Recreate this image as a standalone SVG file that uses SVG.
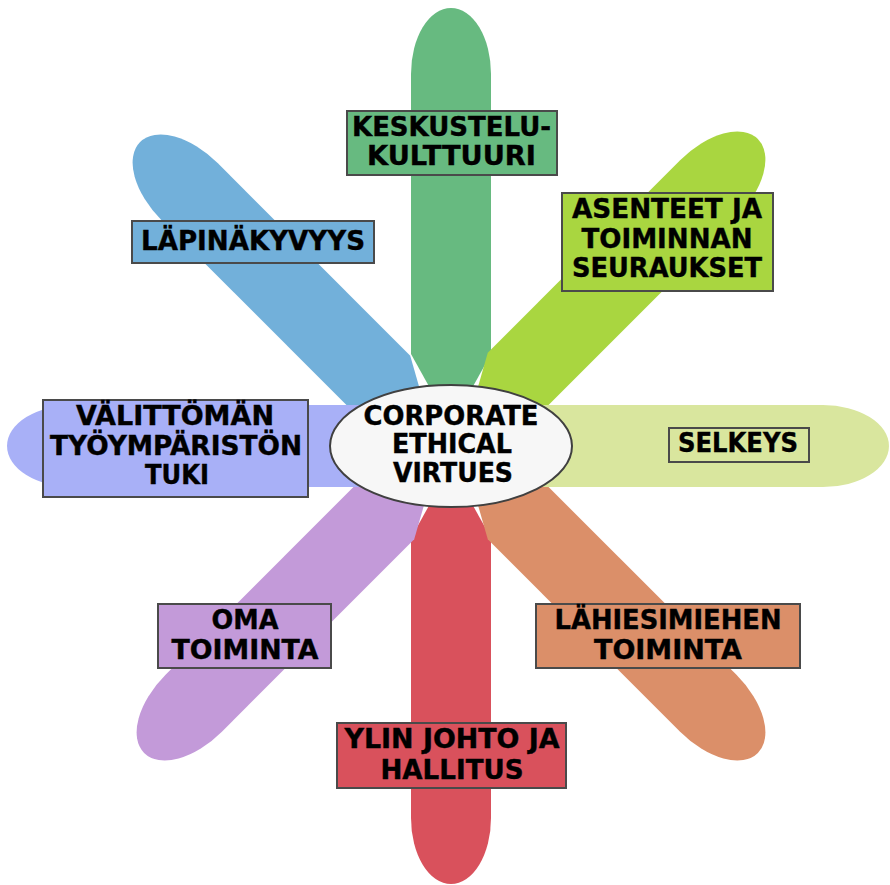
<svg xmlns="http://www.w3.org/2000/svg" width="890" height="885" viewBox="0 0 890 885">
<style>
.lbl{stroke:#4a4a4a;stroke-width:2}
.t{font-family:"DejaVu Sans","Liberation Sans",sans-serif;font-weight:bold;font-size:26px;fill:#000;text-anchor:middle;stroke:#000;stroke-width:0.4}
</style>
<defs>
<path id="pS" d="M20,0 L92,-40 L372,-40 A66,40 0 0 1 372,40 L92,40 Z"/>
<path id="pH" d="M20,0 L92,-41 L372,-41 A66,41 0 0 1 372,41 L92,41 Z"/>
<path id="pL" d="M20,0 L92,-41 L378,-41 A66,41 0 0 1 378,41 L92,41 Z"/>
<path id="pD" d="M20,0 L92,-40 L364,-40 A70,40 0 0 1 364,40 L92,40 Z"/>
</defs>
<rect width="890" height="885" fill="#fff"/>
<g id="connectors"></g>
<g id="keskustelukulttuuri">
<use href="#pS" transform="translate(451,446) rotate(-90)" fill="#67BA80"/>
<rect class="lbl" x="347" y="111" width="210" height="64" fill="#67BA80"/>
<text class="t" x="451.5" y="136" textLength="199" lengthAdjust="spacingAndGlyphs">KESKUSTELU-</text>
<text class="t" x="451.5" y="165" textLength="169" lengthAdjust="spacingAndGlyphs">KULTTUURI</text>
</g>
<g id="ylin-johto">
<use href="#pS" transform="translate(451,446) rotate(90)" fill="#D9515C"/>
<rect class="lbl" x="337" y="723" width="229" height="65" fill="#D9515C"/>
<text class="t" x="452" y="748" textLength="215" lengthAdjust="spacingAndGlyphs">YLIN JOHTO JA</text>
<text class="t" x="452" y="779" textLength="143" lengthAdjust="spacingAndGlyphs">HALLITUS</text>
</g>
<g id="lapinakyvyys">
<use href="#pD" transform="translate(447,449) rotate(-135)" fill="#72B0DA"/>
<rect class="lbl" x="132" y="221" width="242" height="42" fill="#72B0DA"/>
<text class="t" x="253" y="250" textLength="224" lengthAdjust="spacingAndGlyphs">LÄPINÄKYVYYS</text>
</g>
<g id="asenteet">
<use href="#pD" transform="translate(451,446) rotate(-45)" fill="#A9D640"/>
<rect class="lbl" x="562" y="193" width="211" height="98" fill="#A9D640"/>
<text class="t" x="667" y="218" textLength="190" lengthAdjust="spacingAndGlyphs">ASENTEET JA</text>
<text class="t" x="667" y="248" textLength="171" lengthAdjust="spacingAndGlyphs">TOIMINNAN</text>
<text class="t" x="667" y="277" textLength="190" lengthAdjust="spacingAndGlyphs">SEURAUKSET</text>
</g>
<g id="lahiesimiehen">
<use href="#pD" transform="translate(451,446) rotate(45)" fill="#DB8F69"/>
<rect class="lbl" x="536" y="604" width="264" height="64" fill="#DB8F69"/>
<text class="t" x="668" y="629" textLength="227" lengthAdjust="spacingAndGlyphs">LÄHIESIMIEHEN</text>
<text class="t" x="668" y="659" textLength="148" lengthAdjust="spacingAndGlyphs">TOIMINTA</text>
</g>
<g id="oma-toiminta">
<use href="#pD" transform="translate(451,446) rotate(135)" fill="#C39AD9"/>
<rect class="lbl" x="158" y="604" width="173" height="64" fill="#C39AD9"/>
<text class="t" x="245" y="629" textLength="67" lengthAdjust="spacingAndGlyphs">OMA</text>
<text class="t" x="245" y="659" textLength="147" lengthAdjust="spacingAndGlyphs">TOIMINTA</text>
</g>
<g id="valittoman">
<use href="#pL" transform="translate(451,446) rotate(180)" fill="#A8B0F7"/>
<rect class="lbl" x="43" y="400" width="265" height="97" fill="#A8B0F7"/>
<text class="t" x="175" y="425" textLength="198" lengthAdjust="spacingAndGlyphs">VÄLITTÖMÄN</text>
<text class="t" x="176" y="455" textLength="252" lengthAdjust="spacingAndGlyphs">TYÖYMPÄRISTÖN</text>
<text class="t" x="177" y="484" textLength="64" lengthAdjust="spacingAndGlyphs">TUKI</text>
</g>
<g id="selkeys">
<use href="#pH" transform="translate(451,446)" fill="#D9E69E"/>
<rect class="lbl" x="669" y="428" width="140" height="34" fill="#D9E69E"/>
<text class="t" x="738" y="452" textLength="120" lengthAdjust="spacingAndGlyphs">SELKEYS</text>
</g>
<g id="center">
<ellipse cx="451" cy="446" rx="121" ry="61" fill="#F7F7F7" stroke="#404040" stroke-width="2"/>
<text class="t" x="451" y="425" textLength="175" lengthAdjust="spacingAndGlyphs">CORPORATE</text>
<text class="t" x="452" y="453" textLength="120" lengthAdjust="spacingAndGlyphs">ETHICAL</text>
<text class="t" x="453" y="482" textLength="120" lengthAdjust="spacingAndGlyphs">VIRTUES</text>
</g>
</svg>
